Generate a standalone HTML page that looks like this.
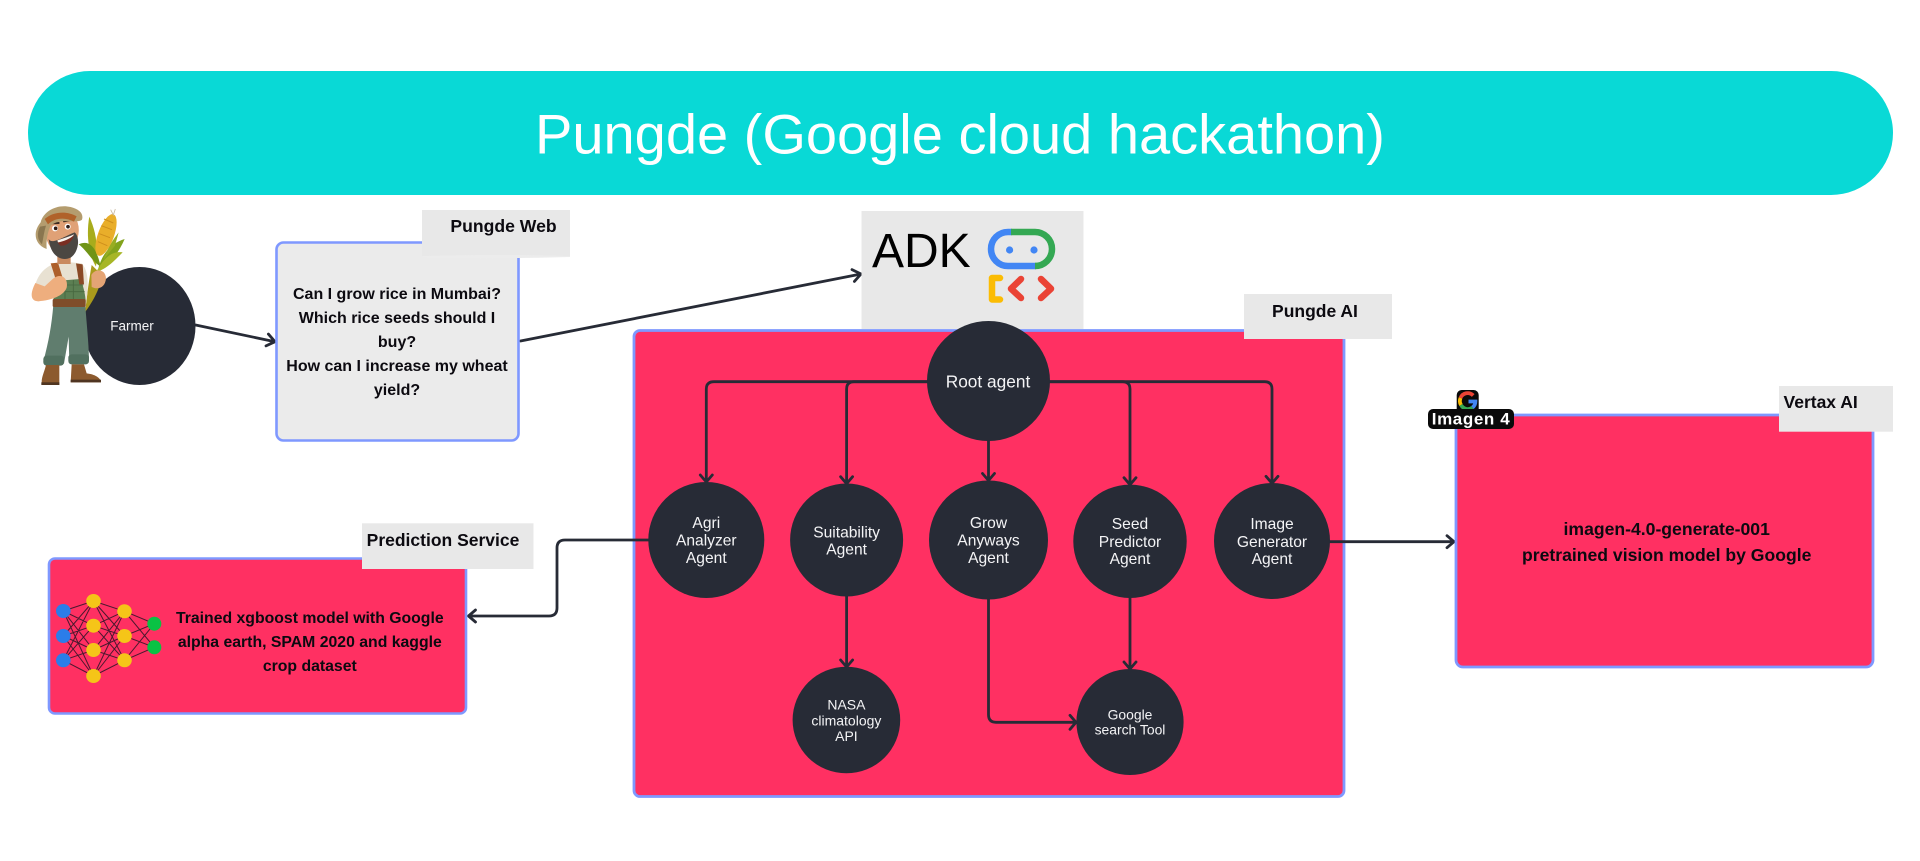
<!DOCTYPE html>
<html><head><meta charset="utf-8"><title>Pungde</title>
<style>
html,body{margin:0;padding:0;background:#fff;width:1920px;height:861px;overflow:hidden}
svg{display:block}
text{font-family:"Liberation Sans",sans-serif}
.w{fill:#f4f4f6;text-anchor:middle;dominant-baseline:central}
.b{fill:#0c0a10;font-weight:700;text-anchor:middle;dominant-baseline:central}
.c{fill:none;stroke:#272b36;stroke-width:2.8;stroke-linejoin:round;stroke-linecap:round}
.n{fill:#272b36}
.nl{stroke:#2a1526;stroke-width:1;fill:none;opacity:.85}
</style></head><body>
<svg width="1920" height="861" viewBox="0 0 1920 861" xmlns="http://www.w3.org/2000/svg">
<defs><filter id="soft" x="-5%" y="-5%" width="110%" height="110%"><feGaussianBlur stdDeviation="1"/></filter></defs>
<rect width="1920" height="861" fill="#fff"/>
<!-- banner -->
<rect x="28" y="71" width="1865" height="124" rx="62" fill="#09d9d6"/>
<text x="960" y="134" font-size="56" fill="#fff" text-anchor="middle" dominant-baseline="central">Pungde (Google cloud hackathon)</text>

<!-- farmer circle -->
<ellipse cx="139.5" cy="326" rx="56" ry="59" class="n"/>
<text x="132" y="326" font-size="13.5" class="w">Farmer</text>

<!-- farmer illustration -->
<g transform="translate(20,195) scale(.3333)" filter="url(#soft)">
  <!-- corn leaves -->
  <path d="M208,65 C226,105 236,150 228,215 C206,180 198,120 208,65Z" fill="#a8ac1e"/>
  <path d="M176,148 C205,135 228,150 242,215 C215,198 200,165 176,148Z" fill="#6f9418"/>
  <path d="M314,132 C282,142 250,165 235,220 C272,205 298,170 314,132Z" fill="#82a31c"/>
  <path d="M296,112 C276,138 262,160 250,195 L285,152Z" fill="#98ad22"/>
  <path d="M308,172 C276,168 254,185 228,232 C264,220 288,192 308,172Z" fill="#a7b628"/>
  <ellipse cx="258" cy="120" rx="24" ry="66" transform="rotate(20 258 120)" fill="#e9ae2b"/>
  <path d="M244,92 L276,104 M238,116 L270,128 M234,140 L262,152 M252,72 L280,84" stroke="#cf8f1c" stroke-width="3"/>
  <path d="M272,44 L280,60 L286,42" stroke="#c9b9a0" stroke-width="2.500" fill="none"/>
  <path d="M215,210 C206,260 200,310 195,352 C216,322 240,285 246,240Z" fill="#a99a1c"/>
  <!-- pants -->
  <path d="M100,330 L196,332 C200,390 206,440 207,492 L148,506 L146,425 L132,506 L70,500 C86,440 95,390 100,330Z" fill="#607d6e"/>
  <rect x="70" y="482" width="62" height="30" rx="10" fill="#516f5f"/>
  <rect x="145" y="478" width="62" height="30" rx="10" fill="#516f5f"/>
  <!-- boots -->
  <path d="M78,510 L118,510 L118,570 L66,570 C62,550 72,535 78,510Z" fill="#8c5a2e"/>
  <path d="M155,508 L192,508 L200,535 C225,538 242,548 243,562 L152,562Z" fill="#8c5a2e"/>
  <rect x="64" y="562" width="54" height="8" fill="#4f3520"/>
  <rect x="152" y="554" width="91" height="8" fill="#4f3520"/>
  <!-- shirt -->
  <path d="M46,268 C60,225 90,205 130,200 L185,205 C205,225 208,270 197,335 L100,335 L98,292Z" fill="#e8e1d2"/>
  <!-- overalls -->
  <path d="M105,258 L182,252 C194,285 197,310 197,322 L100,324Z" fill="#5c7f52"/>
  <path d="M115,270 H190 M112,290 H194 M135,255 V320 M160,255 V320" stroke="#476741" stroke-width="2.500"/>
  <path d="M92,205 L114,203 L132,262 L112,268Z" fill="#ad5f2c"/>
  <path d="M168,205 L188,208 L192,268 L178,268Z" fill="#8a4a26"/>
  <rect x="98" y="312" width="99" height="24" rx="4" fill="#7f4e2a"/>
  <!-- arm + fist -->
  <path d="M46,264 L74,274 L98,252 C122,232 146,248 140,278 C132,302 95,316 55,319 C33,319 28,300 46,264Z" fill="#eeae7e"/>
  <!-- hand -->
  <path d="M214,240 C225,220 256,220 258,250 C256,276 236,286 215,276Z" fill="#e4a475"/>
  <!-- neck/face -->
  <rect x="112" y="175" width="40" height="32" fill="#c98a60"/>
  <ellipse cx="127" cy="110" rx="49" ry="62" transform="rotate(10 127 110)" fill="#e0a176"/>
  <!-- beard -->
  <path d="M86,132 C96,150 130,125 164,112 C180,125 178,170 152,188 C125,200 92,185 86,132Z" fill="#4b4643"/>
  <path d="M112,136 C130,130 150,124 162,118 C158,140 140,152 125,152 C118,152 113,144 112,136Z" fill="#7a2f22"/>
  <path d="M112,136 C130,130 150,124 162,118 C160,127 130,140 114,142Z" fill="#f8f5ef"/>
  <!-- eyes -->
  <circle cx="105" cy="100" r="9" fill="#fff"/><circle cx="143" cy="95" r="9" fill="#fff"/>
  <circle cx="107" cy="100" r="5.500" fill="#2d1c14"/><circle cx="144" cy="95" r="5.500" fill="#2d1c14"/>
  <path d="M90,85 L116,84 M132,79 L156,74" stroke="#3b2c22" stroke-width="6" stroke-linecap="round"/>
  <!-- hat -->
  <path d="M80,162 C42,148 38,110 62,82 C70,48 112,26 152,36 C176,42 192,55 186,74 C172,88 122,66 92,92 C82,112 78,140 80,162Z" fill="#b49c6e"/>
  <path d="M74,72 C102,48 142,48 170,64 L162,80 C135,66 105,68 84,88Z" fill="#b0622c"/>
  <path d="M60,95 C50,115 52,135 66,148 C70,130 72,110 78,92Z" fill="#8a7650"/>
</g>

<!-- connectors -->
<path class="c" d="M195.600,325 L275,341.700 M266,345.900 L275,341.700 L268.400,334.100"/>
<path class="c" d="M520.500,341 L861,274 M854.400,281.400 L861,274 L852,269.600"/>

<!-- ADK -->
<rect x="861.500" y="211" width="222" height="118" fill="#e8e8e8"/>
<text x="872" y="267" font-size="48" fill="#000">ADK</text>
<g fill="none" stroke-width="6.500">
  <path d="M1012,232 H1008 A17,17 0 0 0 1008,266 H1036" stroke="#4286f4"/>
  <path d="M1011,232 H1035 A17,17 0 0 1 1035,266" stroke="#34a853"/>
</g>
<circle cx="1009.600" cy="250" r="3.600" fill="#4286f4"/><circle cx="1034" cy="250" r="3.600" fill="#4286f4"/>
<path d="M1000,278 H992 V299.500 H1000" fill="none" stroke="#fbbc04" stroke-width="6.500" stroke-linejoin="round" stroke-linecap="round"/>
<path d="M1021,279 L1011,288.700 L1021,298 M1041,279 L1051,288.700 L1041,298" fill="none" stroke="#ea4335" stroke-width="6.500" stroke-linecap="round" stroke-linejoin="round"/>

<!-- Pungde Web -->
<rect x="276.500" y="242.500" width="242" height="198" rx="7" fill="#ebebeb" stroke="#7f98ff" stroke-width="2.600"/>
<g font-size="16">
<text x="397" y="294.500" class="b">Can I grow rice in Mumbai?</text>
<text x="397" y="318.500" class="b">Which rice seeds should I</text>
<text x="397" y="342.500" class="b">buy?</text>
<text x="397" y="366.500" class="b">How can I increase my wheat</text>
<text x="397" y="390.500" class="b">yield?</text>
</g>
<rect x="422" y="210" width="148" height="46" fill="#e8e8e8"/>
<path d="M422,256 Q496,254 570,256 L570,257 Q496,259 428,257.500Z" fill="#ececec"/>
<text x="503.500" y="226" font-size="17.600" class="b">Pungde Web</text>

<!-- Pungde AI box -->
<rect x="634" y="330.500" width="710" height="466" rx="6" fill="#ff3062" stroke="#7f98ff" stroke-width="2.800"/>
<rect x="1244" y="294" width="148" height="45" fill="#e8e8e8"/>
<text x="1315" y="311" font-size="17.500" class="b">Pungde AI</text>

<!-- agent connectors -->
<path class="c" d="M930,381.700 H714 Q706.300,381.700 706.300,389 V482 M700.300,475 L706.300,482 L712.300,475"/>
<path class="c" d="M930,381.700 H854 Q846.600,381.700 846.600,389 V483.700 M840.600,476.700 L846.600,483.700 L852.600,476.700"/>
<path class="c" d="M988.500,435 V480.500 M982.500,473.500 L988.500,480.500 L994.500,473.500"/>
<path class="c" d="M1047,381.700 H1122.500 Q1130,381.700 1130,389 V484.700 M1124,477.700 L1130,484.700 L1136,477.700"/>
<path class="c" d="M1047,381.700 H1264.500 Q1272,381.700 1272,389 V483.300 M1266,476.300 L1272,483.300 L1278,476.300"/>
<path class="c" d="M846.600,596 V667 M840.600,660 L846.600,667 L852.600,660"/>
<path class="c" d="M1130,597 V669 M1124,662 L1130,669 L1136,662"/>
<path class="c" d="M988.500,599 V714.500 Q988.500,722.300 996,722.300 H1076 M1070,715.300 L1076,722.300 L1070,729.300"/>
<path class="c" d="M650,540 H565 Q557,540 557,548 V608 Q557,616 549,616 H468.500 M475.500,610 L468.500,616 L475.500,622"/>
<path class="c" d="M1329,541.700 H1454 M1447,535.700 L1454,541.700 L1447,547.700"/>

<!-- agents -->
<ellipse cx="988.500" cy="381" rx="61.500" ry="60" class="n"/>
<text x="988" y="381.500" font-size="17.300" class="w">Root agent</text>

<ellipse cx="706.300" cy="540" rx="58" ry="58" class="n"/>
<g font-size="15.600">
<text x="706.300" y="523.700" class="w">Agri</text><text x="706.300" y="541" class="w">Analyzer</text><text x="706.300" y="558.700" class="w">Agent</text>
</g>
<ellipse cx="846.600" cy="540" rx="56.500" ry="56.500" class="n"/>
<g font-size="15.600">
<text x="846.600" y="533" class="w">Suitability</text><text x="846.600" y="550" class="w">Agent</text>
</g>
<ellipse cx="988.500" cy="540" rx="59.500" ry="59.500" class="n"/>
<g font-size="15.600">
<text x="988.500" y="523.700" class="w">Grow</text><text x="988.500" y="541" class="w">Anyways</text><text x="988.500" y="558.700" class="w">Agent</text>
</g>
<ellipse cx="1130" cy="541.300" rx="56.700" ry="56.700" class="n"/>
<g font-size="15.600">
<text x="1130" y="524.700" class="w">Seed</text><text x="1130" y="542.700" class="w">Predictor</text><text x="1130" y="559.700" class="w">Agent</text>
</g>
<ellipse cx="1272" cy="541" rx="58" ry="58" class="n"/>
<g font-size="15.600">
<text x="1272" y="524.700" class="w">Image</text><text x="1272" y="542.700" class="w">Generator</text><text x="1272" y="559.700" class="w">Agent</text>
</g>
<ellipse cx="846.400" cy="720" rx="53.800" ry="53.300" class="n"/>
<g font-size="14">
<text x="846.400" y="704.300" class="w">NASA</text><text x="846.400" y="720.500" class="w">climatology</text><text x="846.400" y="736" class="w">API</text>
</g>
<ellipse cx="1130" cy="722" rx="53.600" ry="53" class="n"/>
<g font-size="13.900">
<text x="1130" y="714.700" class="w">Google</text><text x="1130" y="729.500" class="w">search Tool</text>
</g>

<!-- Prediction service -->
<rect x="49" y="558.500" width="417" height="155" rx="6" fill="#ff3062" stroke="#7f98ff" stroke-width="2.600"/>
<path class="nl" d="M63.300,611 L93.500,601 M63.300,611 L93.500,625.700 M63.300,611 L93.500,650 M63.300,611 L93.500,676 M63.300,636 L93.500,601 M63.300,636 L93.500,625.700 M63.300,636 L93.500,650 M63.300,636 L93.500,676 M63.300,660.300 L93.500,601 M63.300,660.300 L93.500,625.700 M63.300,660.300 L93.500,650 M63.300,660.300 L93.500,676
M93.500,601 L124.500,611.300 M93.500,601 L124.500,636 M93.500,601 L124.500,660.300 M93.500,625.700 L124.500,611.300 M93.500,625.700 L124.500,636 M93.500,625.700 L124.500,660.300 M93.500,650 L124.500,611.300 M93.500,650 L124.500,636 M93.500,650 L124.500,660.300 M93.500,676 L124.500,611.300 M93.500,676 L124.500,636 M93.500,676 L124.500,660.300
M124.500,611.300 L154.300,623.700 M124.500,611.300 L154.300,647.300 M124.500,636 L154.300,623.700 M124.500,636 L154.300,647.300 M124.500,660.300 L154.300,623.700 M124.500,660.300 L154.300,647.300"/>
<g fill="#2b7de9"><ellipse cx="63.300" cy="611" rx="7.300" ry="7"/><ellipse cx="63.300" cy="636" rx="7.300" ry="7"/><ellipse cx="63.300" cy="660.300" rx="7.300" ry="7"/></g>
<g fill="#f5c518"><ellipse cx="93.500" cy="601" rx="7.300" ry="7"/><ellipse cx="93.500" cy="625.700" rx="7.300" ry="7"/><ellipse cx="93.500" cy="650" rx="7.300" ry="7"/><ellipse cx="93.500" cy="676" rx="7.300" ry="7"/><ellipse cx="124.500" cy="611.300" rx="7.300" ry="7"/><ellipse cx="124.500" cy="636" rx="7.300" ry="7"/><ellipse cx="124.500" cy="660.300" rx="7.300" ry="7"/></g>
<g fill="#0ac244"><ellipse cx="154.300" cy="623.700" rx="7" ry="7"/><ellipse cx="154.300" cy="647.300" rx="7" ry="7"/></g>
<g font-size="15.800">
<text x="309.800" y="618.700" class="b">Trained xgboost model with Google</text>
<text x="309.800" y="642.700" class="b">alpha earth, SPAM 2020 and kaggle</text>
<text x="309.800" y="666.700" class="b">crop dataset</text>
</g>
<rect x="362" y="523.300" width="171.500" height="45.700" fill="#e8e8e8"/>
<text x="443" y="540" font-size="17.500" class="b">Prediction Service</text>

<!-- Vertex -->
<rect x="1456" y="415" width="417" height="252" rx="7" fill="#ff3062" stroke="#7f98ff" stroke-width="2.800"/>
<g font-size="17.600">
<text x="1666.700" y="529" class="b">imagen-4.0-generate-001</text>
<text x="1666.700" y="555" class="b">pretrained vision model by Google</text>
</g>
<rect x="1779" y="386" width="114" height="45.700" fill="#e8e8e8"/>
<text x="1783.500" y="402" font-size="17.500" fill="#0c0a10" font-weight="700" dominant-baseline="central">Vertax AI</text>

<!-- Imagen badge -->
<rect x="1456.700" y="390" width="22" height="24" rx="5" fill="#0a0a0a"/>
<g fill="none" stroke-width="3.800">
  <path d="M1473.200,395.500 A7.700,7.700 0 0 0 1460.500,398" stroke="#ea4335"/>
  <path d="M1460.500,398 A7.700,7.700 0 0 0 1461,405" stroke="#fbbc04"/>
  <path d="M1461,405 A7.700,7.700 0 0 0 1472.500,407.500" stroke="#34a853"/>
  <path d="M1472.500,407.500 A7.700,7.700 0 0 0 1475.400,401.500 H1468.500" stroke="#4286f4"/>
</g>
<rect x="1428" y="409" width="86" height="20" rx="5" fill="#0a0a0a"/>
<text x="1471" y="419" font-size="17" font-weight="700" letter-spacing=".6" fill="#fff" text-anchor="middle" dominant-baseline="central">Imagen 4</text>
</svg>
</body></html>
